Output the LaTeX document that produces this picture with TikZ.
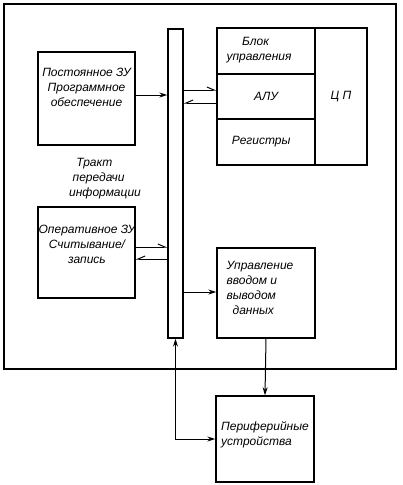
\documentclass[tikz,border=0pt]{standalone}
\usepackage{fontspec}
\setmainfont{Liberation Sans}
\usetikzlibrary{arrows.meta}
\begin{document}
\begin{tikzpicture}[x=1pt, y=-1pt, line width=1.4pt,
		box/.style={draw, inner sep=0pt},
		txt/.style={font=\itshape\fontsize{12}{15}\selectfont, inner sep=0pt},
		arr/.style={-{Stealth[length=8pt, width=5pt]}, line width=1pt},
		half/.style={-{Straight Barb[harpoon, length=7pt, width=6pt]}, line width=1pt},
		halfs/.style={-{Straight Barb[harpoon, swap, length=7pt, width=6pt]}, line width=1pt}]
	
	\useasboundingbox (0,0) rectangle (403,485);
	
	% внешняя рамка
	\draw (4,4) rectangle (396,369);
	
	% ================= шина =================
	\node[box, minimum width=15pt, minimum height=309pt] (bus) at (175.5,183.5) {};
	
	% ================= ЗУ =================
	\node[box, minimum width=97pt, minimum height=93pt] (pzu) at (86.5,98.5) {};
	\node[txt, align=center] (pzu-t) at (86.5,87) {Постоянное ЗУ\\Программное\\обеспечение};
	
	\node[box, minimum width=97pt, minimum height=91pt] (ozu) at (86.5,252.5) {};
	\node[txt, align=center] (ozu-t) at (87,244) {Оперативное ЗУ\\Считывание/\\запись};
	
	\node[txt, align=left] (trakt) at (105,179) {\hspace*{0.6em}Тракт\\\hspace*{0.3em}передачи\\информации};
	
	% ================= ЦП =================
	\node[box, minimum width=98pt, minimum height=46pt] (blk) at (266,51) {};
	\node[txt, align=left] (blk-t) at (259,50) {\hspace*{1.3em}Блок\\управления};
	\node[box, minimum width=98pt, minimum height=45pt, txt] (alu) at (266,96.5) {АЛУ};
	\node[box, minimum width=98pt, minimum height=46pt, txt] (reg) at (266,142) {\hspace*{-0.8em}Регистры};
	\node[box, minimum width=52pt, minimum height=137pt, txt] (cp) at (341,96.5) {Ц П};
	
	% ================= ввод/вывод =================
	\node[box, minimum width=98pt, minimum height=90pt] (upr) at (266,293) {};
	\node[txt, align=left] (upr-t) at (260,288) {Управление\\вводом и\\выводом\\\hspace*{0.5em}данных};
	
	\node[box, minimum width=98pt, minimum height=86pt] (per) at (265,439) {};
	\node[txt, align=left] (per-t) at (265,435) {Периферийные\\устройства};
	
	% ================= связи =================
	\draw[arr] (pzu.east |- 0,95) -- (bus.west |- 0,95);
	\draw[half] (bus.east |- 0,90) -- (alu.west |- 0,90);
	\draw[halfs] (alu.west |- 0,103) -- (bus.east |- 0,103);
	\draw[half] (ozu.east |- 0,247) -- (bus.west |- 0,247);
	\draw[halfs] (bus.west |- 0,259) -- (ozu.east |- 0,259);
	\draw[arr] (bus.east |- 0,292) -- (upr.west |- 0,292);
	\draw[arr] (upr.south) -- (per.north);
	\draw[arr, {Stealth[length=8pt, width=5pt]}-{Stealth[length=8pt, width=5pt]}] (bus.south) |- (per.west);
	
\end{tikzpicture}
\end{document}
